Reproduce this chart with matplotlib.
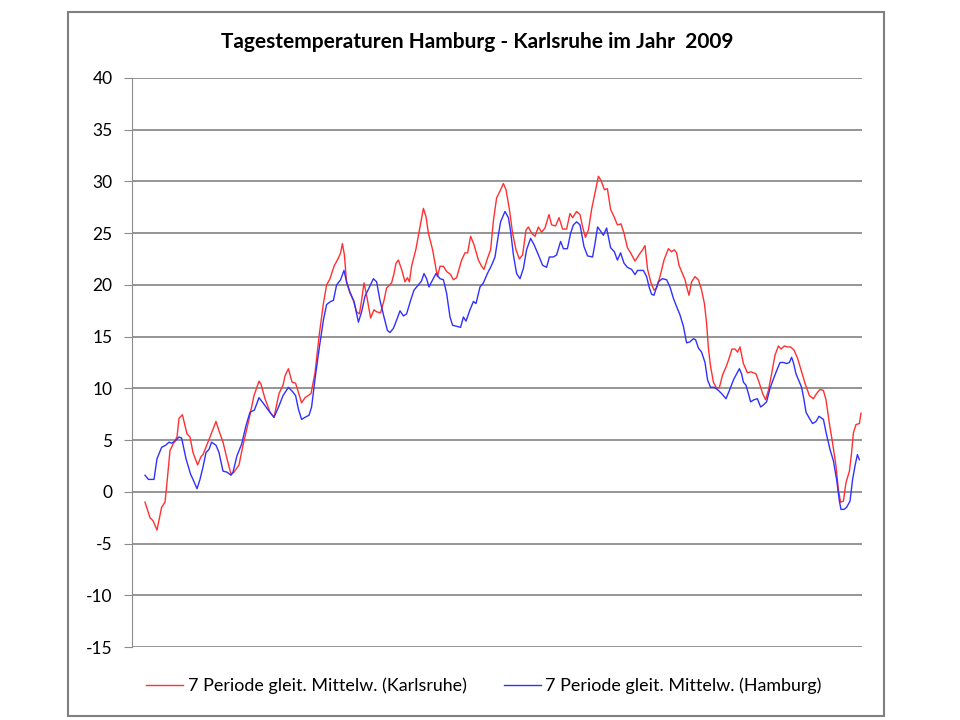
import matplotlib
matplotlib.use("Agg")
from matplotlib import pyplot as plt
from matplotlib.patches import Rectangle

# 7-Tage gleitender Mittelwert (Tag im Jahr, Temperatur)
ka_days = [7, 9.5, 11, 13, 15.3, 17, 18, 19.5, 21, 23, 24, 25.7, 28, 29.5, 31, 33.3, 35, 36, 39.5, 42.5,
           44, 46, 48, 50, 51.5, 54, 56, 59, 61.5, 64, 65, 67, 69.5, 71.5, 74, 76, 77, 78.7, 80.5, 82.3,
           85.3, 87, 90, 92, 94.2, 96.2, 97.8, 99.5, 101.5, 103.7, 104.8, 105.7, 106.7, 107.8, 109.5, 111.2,
           112.8, 114.2, 115.3, 116.5, 117.8, 119.8, 121.5, 122.8, 124.8, 126.5, 127.8, 130.3, 131.5, 132.5,
           133.7, 135.3, 137, 138.2, 139.2, 140.3, 142.5, 144.5, 146.2, 147.5, 148.7, 150.8, 152, 153.2,
           154.5, 156.2, 157.8, 159.8, 161.2, 162.8, 165.3, 167, 168.3, 169.8, 171.5, 173.7, 175.3, 176.5,
           178.3, 179.8, 181.2, 182.8, 184.8, 186.2, 187.5, 189.2, 190.8, 192.5, 194.2, 195.8, 197.5, 198.7,
           200.3, 202, 203.7, 205.3, 207, 209, 210.3, 212.3, 214, 215.8, 217.8, 219.5, 220.8, 222.8, 224.5,
           225.8, 227.2, 228.7, 230.3, 232, 233.7, 235, 236.7, 238.2, 239.8, 241.5, 243.2, 245, 246.5,
           248.2, 249.8, 252, 254, 255.8, 257, 258.3, 260, 261.5, 262.8, 264.5, 266.5, 268.7, 270.3, 271.7,
           272.8, 274, 275.7, 277, 278, 279, 280.3, 282, 283.7, 285.3, 286.7, 287.8, 288.7, 289.8, 291.2,
           292.8, 294.2, 295.8, 297.8, 299.2, 300.5, 302, 303.3, 304.5, 306.2, 308.2, 310, 312.5, 314.2,
           315.8, 317.3, 318.7, 320.3, 322, 323.7, 325, 326.7, 328.2, 329.8, 331.5, 333.3, 335.3, 337,
           339.2, 341.2, 342.8, 344.5, 346.2, 347.5, 349.2, 350.8, 352.5, 353.7, 354.8, 356.2, 357.5, 359.2,
           360.3, 361.2, 362.5, 364.2, 365]
ka_vals = [-1.0, -2.5, -2.8, -3.7, -1.5, -1.0, 0.9, 4.0, 4.6, 5.3, 7.1, 7.45, 5.6, 5.3, 3.8, 2.6, 3.4, 3.6, 5.3, 6.8,
           5.9, 4.8, 3.2, 1.7, 1.9, 2.6, 4.5, 7.0, 9.3, 10.7, 10.4, 9.0, 7.7, 7.2, 9.5, 10.3, 11.2, 11.9, 10.6, 10.5,
           8.6, 9.1, 9.5, 11.5, 15.3, 18.2, 20.0, 20.6, 21.8, 22.6, 23.1, 24.0, 22.9, 20.2, 19.2, 18.5,
           17.4, 17.2, 18.5, 20.2, 19.0, 16.8, 17.6, 17.4, 17.3, 18.5, 19.7, 20.2, 21.1, 22.1,
           22.4, 21.5, 20.3, 20.7, 20.3, 21.8, 23.5, 25.6, 27.4, 26.6, 25.0, 23.4, 22.1, 20.8,
           21.8, 21.8, 21.3, 21.0, 20.5, 20.7, 22.4, 23.1, 23.1, 24.7, 23.9, 22.4, 21.8, 21.5,
           22.6, 23.4, 26.2, 28.4, 29.2, 29.8, 29.2, 27.3, 25.0, 23.4, 22.5, 22.9, 25.3, 25.6,
           25.0, 24.7, 25.6, 25.1, 25.5, 26.8, 25.8, 25.7, 26.5, 25.4, 25.4, 26.9, 26.5, 27.1, 26.8,
           25.6, 24.6, 25.3, 27.3, 28.9, 30.5, 30.1, 29.2, 29.3, 27.3, 26.6, 25.8, 25.9, 25.0,
           23.6, 23.1, 22.3, 22.9, 23.4, 23.8, 21.5, 20.2, 19.5, 19.7, 20.8, 22.4, 23.5, 23.2, 23.4,
           23.1, 21.9, 21.1, 20.5, 19.7, 19.0, 20.3, 20.8, 20.5, 19.5, 18.2, 16.3, 13.9, 12.1, 10.6,
           10.0, 10.1, 11.3, 12.2, 13.0, 13.8, 13.8, 13.5, 14.0, 12.4, 11.5, 11.6, 11.4, 10.5,
           9.5, 8.9, 9.8, 11.4, 13.2, 14.1, 13.8, 14.1, 14.0, 14.0, 13.7, 12.9, 11.6, 10.5,
           9.3, 9.0, 9.5, 9.9, 9.8, 8.9, 6.6, 4.7, 2.5, 0.2, -1.0, -0.9, 0.9, 2.0,
           3.8, 5.7, 6.5, 6.6, 7.6]

hh_days = [7, 8.7, 11.5, 13, 15.3, 17.3, 19, 20.3, 22, 24, 25.3, 27.5, 29.8, 31, 33, 34.5, 36, 37.5, 39, 40.3,
           42.5, 44, 46, 48, 50, 51, 53, 55.3, 57.5, 59.5, 61.7, 64, 66, 69, 71.5, 74, 76, 78.7, 80.7, 82.3,
           83.7, 85.3, 87, 89, 90.3, 92, 94.2, 96.2, 97.8, 99.8, 101.2, 102.8, 104.8, 106.5, 107.8, 109.5,
           111.5, 113.7, 115.3, 117, 119.2, 121.2, 122.8, 124.5, 126.5, 128.2, 129.5, 131.2, 133.2, 134.5,
           136.2, 137.8, 139.8, 141.5, 143.7, 145.3, 146.5, 147.8, 149, 150.3, 152.5, 154.5, 156.2, 157.8,
           159.5, 160.8, 162.8, 164.8, 166.2, 167.5, 169.5, 171.2, 172.5, 174.5, 176.2, 178.2, 180.3, 182,
           183.5, 184.8, 187, 188.7, 189.8, 191.2, 192.8, 194.5, 196.2, 197.8, 199.8, 201.5, 203.7, 205.8,
           207.8, 209.2, 211.2, 212.8, 214.8, 216.2, 218.2, 219.8, 221.2, 222.8, 224.5, 226.5, 228.3, 230.8,
           232, 233.3, 234.8, 236.2, 237.8, 239.8, 241.7, 243.2, 244.8, 246.5, 248.2, 250.3, 252, 253.3,
           256.2, 257.8, 259.2, 260.3, 261.5, 262.8, 263.7, 265.7, 267.8, 269.5, 271.2, 272.8, 274.5, 276.2,
           277.8, 279.5, 281.2, 282.3, 283.7, 285.3, 287, 288.3, 289.8, 291.7, 293.7, 295.3, 297.5, 299.2,
           301.2, 302.8, 304.2, 305.3, 306.2, 307.5, 308.7, 309.8, 311.5, 313.2, 314.8, 316.2, 317.8, 319.5,
           321.2, 322.8, 324.5, 326.2, 327.8, 329.2, 330.3, 331.2, 332.5, 334.2, 335.3, 336.5, 337.5, 339.2,
           340.8, 342.5, 344, 346.2, 347.8, 349.5, 351.2, 352.8, 354.2, 355, 356.5, 357.8, 359.5, 360.8,
           362, 363.2, 364.2]
hh_vals = [1.6, 1.2, 1.2, 3.2, 4.3, 4.5, 4.8, 4.7, 4.9, 5.3, 5.2, 3.2, 1.7, 1.2, 0.3, 1.2, 2.4, 3.8, 4.1, 4.8,
           4.5, 3.8, 2.0, 1.9, 1.6, 1.9, 3.5, 4.6, 6.4, 7.7, 7.9, 9.1, 8.6, 7.8, 7.2, 8.3, 9.3, 10.1, 9.7, 9.3,
           8.0, 7.0, 7.2, 7.4, 8.2, 10.9, 14.0, 16.6, 18.1, 18.4, 18.5, 20.0, 20.5, 21.4, 20.3, 19.3,
           18.4, 16.4, 17.4, 18.9, 19.8, 20.6, 20.3, 18.5, 16.9, 15.6, 15.4, 15.8, 16.8, 17.5,
           17.0, 17.2, 18.5, 19.5, 20.0, 20.4, 21.1, 20.6, 19.8, 20.3, 21.1, 20.6, 20.5, 19.2,
           16.9, 16.1, 16.0, 15.9, 16.9, 16.5, 17.6, 18.4, 18.2, 19.8, 20.2, 21.1, 21.9, 22.7,
           24.6, 26.1, 27.1, 26.5, 25.2, 22.9, 21.1, 20.6, 21.6, 23.4, 24.5, 23.9, 22.9, 21.9,
           21.7, 22.7, 22.7, 22.9, 24.2, 23.5, 23.5, 25.0, 25.8, 26.1, 25.8, 23.7, 22.8, 22.7,
           24.0, 25.6, 25.2, 24.8, 25.5, 23.6, 23.2, 22.4, 23.1, 22.1, 21.7, 21.5, 21.0, 21.4,
           21.4, 20.8, 19.7, 19.1, 19.0, 19.8, 20.3, 20.6, 20.5, 19.8, 18.7, 17.9, 17.1, 16.0,
           14.4, 14.5, 14.8, 14.7, 13.9, 13.5, 12.5, 10.8, 10.1, 10.1, 9.8, 9.5, 9.0, 9.8,
           10.8, 11.4, 11.9, 11.4, 10.6, 10.3, 9.5, 8.7, 8.9, 9.0, 8.2, 8.4, 8.7, 10.0,
           10.9, 11.7, 12.5, 12.5, 12.4, 12.5, 13.0, 12.5, 11.4, 10.6, 10.1, 8.9, 7.7, 7.1,
           6.6, 6.8, 7.3, 7.0, 5.5, 4.1, 3.0, 1.2, -0.9, -1.7, -1.7, -1.5, -0.9, 1.2,
           2.5, 3.6, 3.1]

y_ticks = list(range(-15, 45, 5))
title = "Tagestemperaturen Hamburg - Karlsruhe im Jahr  2009"
label_ka = "7 Periode gleit. Mittelw. (Karlsruhe)"
label_hh = "7 Periode gleit. Mittelw. (Hamburg)"

plt.rcParams['font.family'] = ['Lato', 'DejaVu Sans']
plt.rcParams['axes.unicode_minus'] = False

fig = plt.figure(figsize=(9.6, 7.2), dpi=100)
ax = fig.add_axes([132/960, 73/720, 730/960, 569/720])

ax.plot(ka_days, ka_vals, color='#ff3030', lw=1.0, label=label_ka)
ax.plot(hh_days, hh_vals, color='#3030ff', lw=1.0, label=label_hh)

ax.set_xlim(0.5, 365.5)
ax.set_ylim(-15, 40)
ax.set_yticks(y_ticks)
ax.set_xticks([])
ax.grid(axis='y', color='#8c8c8c', lw=1.3)
ax.set_axisbelow(True)
for s in ['top', 'right', 'bottom']:
    ax.spines[s].set_visible(False)
ax.spines['left'].set_color('#8c8c8c')
ax.tick_params(axis='y', length=6, color='#8c8c8c', labelsize=12.5, pad=8)

fig.text(477/960, 1 - 42/720, title, ha='center', va='center', fontsize=15, fontweight='bold')
fig.legend(loc='center', bbox_to_anchor=(484/960, 34/720), ncol=2, frameon=False,
           fontsize=12.9, handlelength=2.05, columnspacing=2.1, handletextpad=0.25)

fig.add_artist(Rectangle((68/960, 4/720), 816/960, 704/720, transform=fig.transFigure,
                         fill=False, edgecolor='#808080', lw=1.5))

fig.savefig('out.png', dpi=100)
